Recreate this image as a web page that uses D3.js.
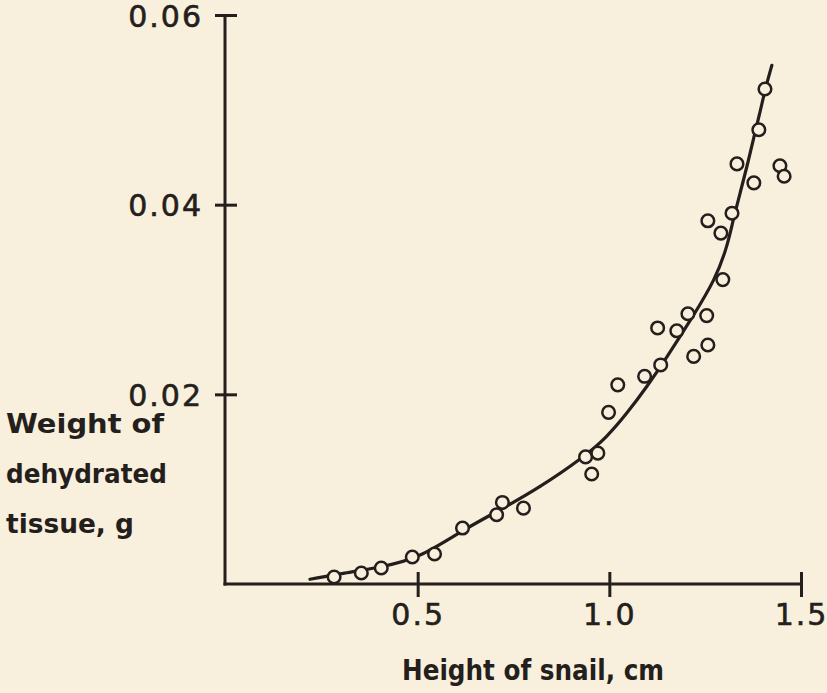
<!DOCTYPE html>
<html>
<head>
<meta charset="utf-8">
<script src="https://cdn.jsdelivr.net/npm/d3@7"></script>
<style>
  html, body { margin: 0; padding: 0; background: #f9efdd; }
  svg { display: block; }
  .tick-label { font-family: "DejaVu Sans", sans-serif; font-size: 30px; fill: #241f1c; stroke: #241f1c; stroke-width: 0.6px; letter-spacing: 2px; }
  .title { font-family: "DejaVu Sans", sans-serif; font-weight: bold; fill: #241f1c; }
</style>
</head>
<body>
<div class="chart"></div>
<script>
// height of snail (cm) and dehydrated tissue weight (g)
const heights = [0.282, 0.353, 0.405, 0.486, 0.544, 0.617, 0.706, 0.721, 0.776,
  0.938, 0.954, 0.970, 0.998, 1.022, 1.092, 1.126, 1.134, 1.176, 1.205, 1.220,
  1.254, 1.257, 1.257, 1.291, 1.296, 1.320, 1.333, 1.377, 1.390, 1.406, 1.445, 1.456];
const weights = [0.00074, 0.00116, 0.00169, 0.00285, 0.00316, 0.0059, 0.0073, 0.0086, 0.0080,
  0.0134, 0.0116, 0.0138, 0.0181, 0.0210, 0.0219, 0.0270, 0.0231, 0.0267, 0.0285, 0.0240,
  0.0283, 0.0252, 0.0383, 0.0370, 0.0321, 0.0391, 0.0443, 0.0423, 0.0479, 0.0522, 0.0441, 0.0430];

// fitted curve
const curveH = [0.219, 0.316, 0.407, 0.503, 0.618, 0.715, 0.819, 0.931, 0.994, 1.046, 1.098,
  1.145, 1.218, 1.276, 1.307, 1.323, 1.341, 1.359, 1.375, 1.393, 1.406, 1.424];
const curveW = [0.0005, 0.0012, 0.0018, 0.0027, 0.0057, 0.0078, 0.0102, 0.0133, 0.0155, 0.0180, 0.0208,
  0.0236, 0.0282, 0.0321, 0.0355, 0.0384, 0.0412, 0.0440, 0.0468, 0.0497, 0.0521, 0.0547];

const xTicks = [0.5, 1.0, 1.5];
const xTickLabels = ['0.5', '1.0', '1.5'];
const yTicks = [0.02, 0.04, 0.06];
const yTickLabels = ['0.02', '0.04', '0.06'];
const yTitleLines = ['Weight of', 'dehydrated', 'tissue, g'];
const xTitle = 'Height of snail, cm';

const width = 827;
const height = 693;
const ink = '#241f1c';
const paper = '#f9efdd';

const xScale = d3.scaleLinear()
    .domain([0, 1.5])
    .range([226, 801]);

const yScale = d3.scaleLinear()
    .domain([0, 0.06])
    .range([584, 15]);

const axisX0 = 225;

const svg = d3.select('.chart').append('svg')
    .attr('width', width)
    .attr('height', height);

const drawXAxis = function (el) {
  const axis = el.append('g')
      .attr('class', 'axis axis--x')
      .attr('transform', `translate(0,${yScale(0)})`)
      .call(d3.axisBottom(xScale)
        .tickValues(xTicks)
        .tickFormat((d, i) => xTickLabels[i])
        .tickSizeOuter(0));
  axis.select('.domain').remove();
  axis.selectAll('.tick line')
      .attr('y1', -12)
      .attr('y2', 13)
      .attr('stroke', ink)
      .attr('stroke-width', 3);
  axis.selectAll('.tick text')
      .attr('class', 'tick-label')
      .attr('y', 41)
      .attr('dy', null)
      .attr('font-size', null)
      .attr('font-family', null)
      .attr('fill', null);
  axis.append('line')
      .attr('x1', axisX0 - 1.5)
      .attr('x2', xScale(1.5))
      .attr('stroke', ink)
      .attr('stroke-width', 3);
};

const drawYAxis = function (el) {
  const axis = el.append('g')
      .attr('class', 'axis axis--y')
      .attr('transform', `translate(${axisX0},0)`)
      .call(d3.axisLeft(yScale)
        .tickValues(yTicks)
        .tickFormat((d, i) => yTickLabels[i])
        .tickSizeOuter(0));
  axis.select('.domain').remove();
  axis.selectAll('.tick line')
      .attr('x1', -10)
      .attr('x2', 12)
      .attr('stroke', ink)
      .attr('stroke-width', 3);
  axis.selectAll('.tick text')
      .attr('class', 'tick-label')
      .attr('x', -22)
      .attr('dy', 11)
      .attr('font-size', null)
      .attr('font-family', null)
      .attr('fill', null);
  axis.append('line')
      .attr('y1', yScale(0.06))
      .attr('y2', yScale(0) + 1.5)
      .attr('stroke', ink)
      .attr('stroke-width', 3);
};

const drawCurve = function (el) {
  const pts = curveH.map((h, i) => [h, curveW[i]]);
  const line = d3.line()
      .x(d => xScale(d[0]))
      .y(d => yScale(d[1]))
      .curve(d3.curveBasis);
  el.append('path')
      .attr('class', 'fit')
      .attr('d', line(pts))
      .attr('fill', 'none')
      .attr('stroke', ink)
      .attr('stroke-width', 3.2)
      .attr('stroke-linecap', 'round');
};

const drawPoints = function (el) {
  const data = heights.map((h, i) => ({h: h, w: weights[i]}));
  el.append('g')
      .attr('class', 'points')
    .selectAll('circle')
    .data(data)
    .enter()
    .append('circle')
      .attr('cx', d => xScale(d.h))
      .attr('cy', d => yScale(d.w))
      .attr('r', 6.3)
      .attr('fill', paper)
      .attr('stroke', ink)
      .attr('stroke-width', 2.5);
};

const drawTitles = function (el) {
  const yTitle = el.append('g').attr('class', 'y-title');
  const lens = [158, 161, 128];
  yTitle.selectAll('text')
    .data(yTitleLines)
    .enter()
    .append('text')
      .attr('class', 'title')
      .attr('x', 6)
      .attr('y', (d, i) => 433 + i * 50)
      .attr('font-size', 26)
      .attr('textLength', (d, i) => lens[i])
      .attr('lengthAdjust', 'spacingAndGlyphs')
      .text(d => d);

  el.append('text')
      .attr('class', 'title')
      .attr('x', 402)
      .attr('y', 680)
      .attr('font-size', 28)
      .attr('textLength', 262)
      .attr('lengthAdjust', 'spacingAndGlyphs')
      .text(xTitle);
};

drawXAxis(svg);
drawYAxis(svg);
drawCurve(svg);
drawPoints(svg);
drawTitles(svg);
</script>
</body>
</html>
